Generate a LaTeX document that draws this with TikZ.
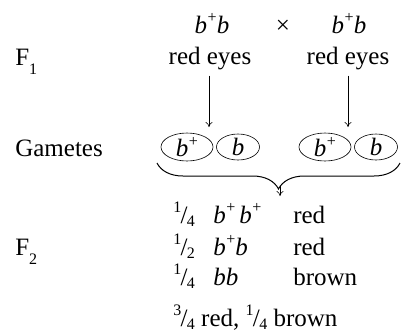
\documentclass[tikz,border=0pt]{standalone}
\usepackage{fontspec}
\setmainfont{Liberation Serif}
\usetikzlibrary{positioning,shapes.geometric,decorations.pathreplacing,arrows.meta}

% small digits and signs
\newcommand{\sm}{\fontsize{16}{16}\selectfont}
\newcommand{\bplus}{\textit{b}\kern0.02em\raisebox{0.42em}{\sm+}}
\newcommand{\sfrac}[2]{\raisebox{0.42em}{\sm #1}\kern-0.03em/\kern-0.02em\raisebox{-0.12em}{\sm #2}}
\newcommand{\gen}[1]{F\raisebox{-0.36em}{\sm #1}}

\begin{document}
\begin{tikzpicture}[x=1pt, y=-1pt, >={To[length=5pt,width=7pt]}, line width=0.6pt,
    font=\fontsize{25}{30}\selectfont,
    txt/.style={inner sep=0pt, anchor=base},
    lbl/.style={inner sep=0pt, anchor=base west},
    gamete/.style={draw, ellipse, inner sep=0pt, minimum height=26pt}]
  \useasboundingbox (0,0) rectangle (404,333);

  % parents
  \node[txt] (P1)    at (212,33) {\bplus\textit{b}};
  \node[txt] (cross) at (283,33) {×};
  \node[txt] (P2)    at (349,33) {\bplus\textit{b}};
  \node[txt] (E1)    at (210,64) {red eyes};
  \node[txt] (E2)    at (348,64) {red eyes};
  \node[lbl] (F1)    at (15,65)  {\gen{1}};

  % gametes
  \node[lbl] (Gam) at (15,156) {Gametes};
  \node[gamete, minimum width=52pt] (G1) at (187,147) {\bplus};
  \node[gamete, minimum width=43pt] (G2) at (238,147) {\textit{b}};
  \node[gamete, minimum width=52pt] (G3) at (325,147) {\bplus};
  \node[gamete, minimum width=43pt] (G4) at (376,147) {\textit{b}};

  \coordinate (A1) at (209,127);
  \coordinate (A2) at (348,127);
  \draw[->, shorten <=6pt] (E1.south -| A1) -- (A1);
  \draw[->, shorten <=6pt] (E2.south -| A2) -- (A2);

  % everything combines
  \coordinate (BrL) at (157,163);
  \coordinate (BrR) at (400,163);
  \coordinate (BrS) at (280,186);
  \coordinate (BrT) at (280,196);
  \draw[line width=1pt, decorate, decoration={brace, mirror, amplitude=26pt, aspect=0.5}]
    (BrL) -- (BrR);
  \draw[->] (BrS) -- (BrT);

  % offspring
  \node[lbl] (F2) at (15,255) {\gen{2}};

  \node[lbl] (Q1) at (173,223) {\sfrac{1}{4}};
  \node[lbl] (Q2) at (173,255) {\sfrac{1}{2}};
  \node[lbl] (Q3) at (173,285) {\sfrac{1}{4}};
  \node[lbl] (T1) at (213,223) {\bplus\,\bplus};
  \node[lbl] (T2) at (213,255) {\bplus\textit{b}};
  \node[lbl] (T3) at (213,285) {\textit{bb}};
  \node[lbl] (C1) at (293,223) {red};
  \node[lbl] (C2) at (293,255) {red};
  \node[lbl] (C3) at (293,285) {brown};

  \node[lbl] (Sum) at (173,326) {\sfrac{3}{4} red, \sfrac{1}{4} brown};
\end{tikzpicture}
\end{document}
